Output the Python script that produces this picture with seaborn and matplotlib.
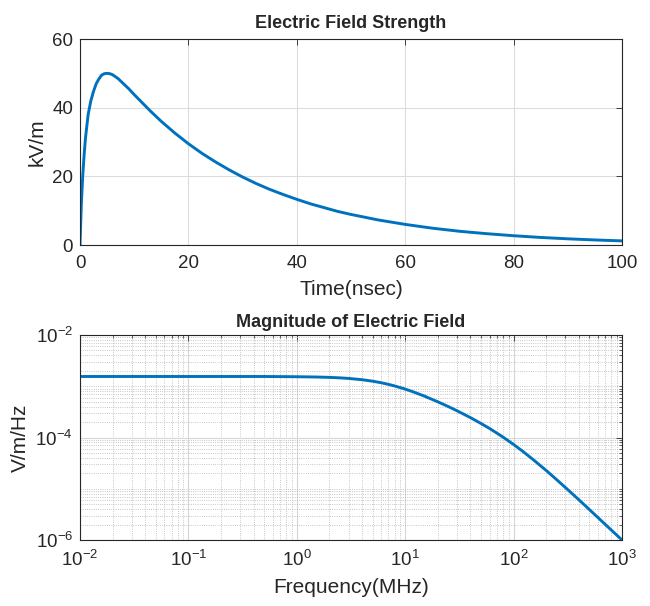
import numpy as np
import pandas as pd
import matplotlib
matplotlib.use("Agg")
import matplotlib.pyplot as plt
import matplotlib.ticker as mticker
import seaborn as sns

# ---- data ----
time_ns = [0, 0.1, 0.25, 0.5, 0.75, 1, 1.5, 2, 2.5, 3, 3.5, 4, 4.5, 5, 5.5, 6,
           7, 8, 9, 10, 11, 12, 13, 14, 15, 17.5, 20, 22.5, 25, 27.5, 30, 32.5,
           35, 37.5, 40, 42.5, 45, 47.5, 50, 55, 60, 65, 70, 75, 80, 85, 90,
           95, 100]
field_kv = [0, 5, 12, 20, 26, 31, 38, 42, 44.8, 47, 48.4, 49.5, 49.9, 50,
            49.9, 49.6, 48.5, 47, 45.5, 43.8, 42.2, 40.6, 39.0, 37.5, 36,
            32.6, 29.5, 26.7, 24.2, 21.9, 19.8, 17.9, 16.2, 14.7, 13.3, 12.0,
            10.9, 9.8, 8.9, 7.3, 6.0, 4.9, 4.0, 3.3, 2.7, 2.2, 1.8, 1.47, 1.2]

freq_mhz = [0.01, 0.1, 0.5, 1, 1.5, 2, 2.5, 3, 4, 5, 6, 7, 8, 10, 12, 15, 20,
            25, 30, 35, 40, 50, 60, 70, 80, 100, 120, 150, 200, 250, 300, 350,
            400, 500, 600, 700, 800, 1000]
mag = [1.55e-3, 1.55e-3, 1.55e-3, 1.534e-3, 1.515e-3, 1.49e-3, 1.458e-3,
       1.422e-3, 1.342e-3, 1.256e-3, 1.171e-3, 1.089e-3, 1.013e-3, 8.8e-4,
       7.7e-4, 6.43e-4, 4.97e-4, 4.01e-4, 3.33e-4, 2.82e-4, 2.44e-4, 1.88e-4,
       1.50e-4, 1.22e-4, 1.016e-4, 7.31e-5, 5.48e-5, 3.77e-5, 2.27e-5,
       1.50e-5, 1.06e-5, 7.89e-6, 6.09e-6, 3.93e-6, 2.74e-6, 2.02e-6,
       1.55e-6, 1.0e-6]

top_xticks = [0, 20, 40, 60, 80, 100]
top_yticks = [0, 20, 40, 60]

sns.set_theme(style="white")
plt.rcParams['font.family'] = ['Liberation Sans', 'DejaVu Sans']
plt.rcParams['mathtext.fontset'] = 'custom'
plt.rcParams['mathtext.rm'] = 'Liberation Sans'
plt.rcParams['mathtext.it'] = 'Liberation Sans:italic'

line_color = '#0072BD'
txt = '#262626'
edge = '#262626'

fig = plt.figure(figsize=(6.5, 6.06), dpi=100)
ax1 = fig.add_axes([80/650, 1-245/606, 542/650, 206/606])
ax2 = fig.add_axes([80/650, 1-540/606, 542/650, 205/606])

df1 = pd.DataFrame({'t': time_ns, 'E': field_kv})
sns.lineplot(data=df1, x='t', y='E', ax=ax1, color=line_color, linewidth=2.1)
ax1.set_xlim(0, 100)
ax1.set_ylim(0, 60)
ax1.set_xticks(top_xticks)
ax1.set_yticks(top_yticks)
ax1.grid(True, color='#dcdcdc', linewidth=0.8)
ax1.set_title('Electric Field Strength', fontsize=13, fontweight='bold', pad=8)
ax1.set_xlabel('Time(nsec)', fontsize=15, color=txt, labelpad=6)
ax1.set_ylabel('kV/m', fontsize=15, color=txt, labelpad=4)

df2 = pd.DataFrame({'f': freq_mhz, 'M': mag})
sns.lineplot(data=df2, x='f', y='M', ax=ax2, color=line_color, linewidth=2.1)
ax2.set_xscale('log')
ax2.set_yscale('log')
ax2.set_xlim(1e-2, 1e3)
ax2.set_ylim(1e-6, 1e-2)
ax2.xaxis.set_major_locator(mticker.LogLocator(base=10, numticks=20))
ax2.xaxis.set_minor_locator(mticker.LogLocator(base=10, subs=np.arange(2, 10), numticks=50))
ax2.xaxis.set_minor_formatter(mticker.NullFormatter())
ax2.yaxis.set_major_locator(mticker.FixedLocator([1e-6, 1e-4, 1e-2]))
yminor = [k * 10.0**n for n in range(-6, -2) for k in range(1, 10)
          if not (k == 1 and n in (-6, -4))]
ax2.yaxis.set_minor_locator(mticker.FixedLocator(yminor))
ax2.yaxis.set_minor_formatter(mticker.NullFormatter())
ax2.yaxis.set_major_formatter(mticker.LogFormatterSciNotation())
ax2.grid(True, which='major', color='#d6d6d6', linewidth=0.8)
ax2.grid(True, which='minor', color='#b4b4b4', linewidth=0.6, linestyle=':')
ax2.set_title('Magnitude of Electric Field', fontsize=13, fontweight='bold', pad=6)
ax2.set_xlabel('Frequency(MHz)', fontsize=15, color=txt, labelpad=6)
ax2.set_ylabel('V/m/Hz', fontsize=15, color=txt, labelpad=4)

for ax in (ax1, ax2):
    for s in ax.spines.values():
        s.set_color(edge)
        s.set_linewidth(0.8)
        s.set_visible(True)
    ax.tick_params(which='both', direction='in', top=True, right=True,
                   colors=edge, labelcolor=txt, labelsize=13.5)
    ax.tick_params(which='major', length=4, width=0.6)
    ax.tick_params(which='minor', length=2, width=0.5)
    ax.tick_params(axis='x', which='major', pad=7)
    ax.tick_params(axis='y', which='major', pad=5)
    ax.set_axisbelow(True)

fig.savefig('out.png', dpi=100, facecolor='white')
